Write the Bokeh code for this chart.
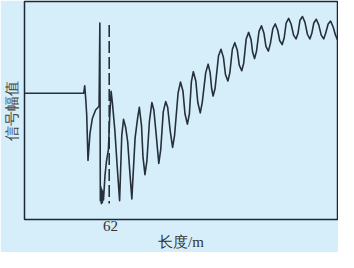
from bokeh.plotting import figure
from bokeh.models import Range1d, FixedTicker
from bokeh.embed import file_html
from bokeh.resources import INLINE

# Distance along the line (m) and signal amplitude (arbitrary units)
dist_m = [40.25, 55.25, 55.5, 55.75, 56.0, 56.33, 56.83, 57.43, 58.25, 59.13,
          59.33, 59.45, 59.58, 59.7, 59.83, 59.95, 60.13, 60.25, 60.63, 61.0,
          61.5, 61.83, 62.18, 62.5, 63.13, 63.75, 64.33, 64.88, 65.33, 65.88,
          66.38, 66.88, 67.43, 68.25, 68.88, 69.33, 69.88, 70.25, 70.75, 71.25,
          71.88, 72.5, 73.0, 73.5, 74.25, 74.75, 75.38, 76.0, 76.5, 77.13,
          77.75, 78.25, 79.13, 79.75, 80.38, 80.88, 81.5, 82.0, 82.5, 83.0,
          83.63, 84.13, 84.75, 85.25, 86.13, 86.75, 87.25, 87.63, 88.0, 88.5,
          89.38, 90.0, 90.63, 91.13, 91.75, 92.25, 92.88, 93.5, 94.13, 94.63,
          95.25, 95.75, 96.38, 97.0, 97.63, 98.0, 98.5, 99.0, 99.63, 100.25,
          100.88, 101.38, 102.0, 102.5, 103.13, 103.75, 104.38, 104.88, 105.5, 106.0,
          106.5, 107.13, 107.75, 108.38, 109.0, 109.5, 110.0, 110.63, 111.25, 111.88,
          112.5, 113.0, 113.5, 114.13, 114.75, 115.38, 116.0, 116.5, 117.13, 117.75,
          118.38, 119.0, 119.5]
amplitude = [135, 135, 143, 129, 112, 63, 92, 108, 117, 121,
             210, 20, 35, 17, 32, 18, 30, 21, 47, 62,
             75, 110, 137, 125, 95, 55, 20, 90, 107, 98,
             83, 53, 22, 87, 108, 120, 100, 67, 48, 63,
             105, 125, 117, 95, 60, 75, 115, 126, 120, 95,
             77, 90, 135, 147, 137, 113, 102, 113, 147, 158,
             148, 125, 114, 125, 157, 166, 157, 140, 132, 140,
             175, 182, 173, 155, 148, 157, 182, 189, 181, 165,
             159, 167, 193, 200, 192, 179, 172, 180, 201, 207,
             199, 185, 180, 188, 204, 209, 202, 191, 187, 194,
             210, 215, 209, 197, 193, 199, 213, 217, 211, 198,
             193, 199, 210, 214, 208, 197, 193, 199, 209, 212,
             206, 197, 192]

# Dashed marker line near 62 m
marker_x = [61.7, 61.7]
marker_y = [208, 17]

tick_values = [62]
x_label = "长度/m"
y_label = "信号幅值"

bg = "#d5eefa"
ink = "#26303a"

p = figure(width=338, height=252, output_backend="svg", toolbar_location=None,
           x_range=Range1d(40.25, 119.5), y_range=Range1d(0, 233),
           min_border_left=0, min_border_right=1, min_border_top=1, min_border_bottom=0)
p.background_fill_color = bg
p.border_fill_color = bg
p.outline_line_color = "#1b2836"
p.outline_line_width = 1.5
p.grid.visible = False

p.line(dist_m, amplitude, line_color=ink, line_width=1.6, line_join="round")
p.line(marker_x, marker_y, line_color=ink, line_width=1.6, line_dash="12 4")

xa = p.xaxis[0]
xa.ticker = FixedTicker(ticks=tick_values)
xa.axis_line_color = None
xa.major_tick_line_color = None
xa.minor_tick_line_color = None
xa.major_tick_out = 0
xa.major_tick_in = 0
xa.major_label_text_font = "Liberation Serif"
xa.major_label_text_font_size = "15px"
xa.major_label_text_color = "#333333"
xa.major_label_standoff = 1
xa.axis_label = x_label
xa.axis_label_text_font = "Liberation Serif"
xa.axis_label_text_font_size = "15px"
xa.axis_label_text_font_style = "normal"
xa.axis_label_text_color = "#333333"
xa.axis_label_standoff = 0

ya = p.yaxis[0]
ya.ticker = FixedTicker(ticks=[])
ya.axis_line_color = None
ya.major_tick_line_color = None
ya.minor_tick_line_color = None
ya.major_tick_out = 0
ya.major_tick_in = 0
ya.major_label_text_color = None
ya.axis_label = y_label
ya.axis_label_text_font = "Liberation Serif"
ya.axis_label_text_font_size = "15px"
ya.axis_label_text_font_style = "normal"
ya.axis_label_text_color = "#444444"
ya.axis_label_standoff = 5

open("out.html", "w").write(file_html(p, INLINE))
